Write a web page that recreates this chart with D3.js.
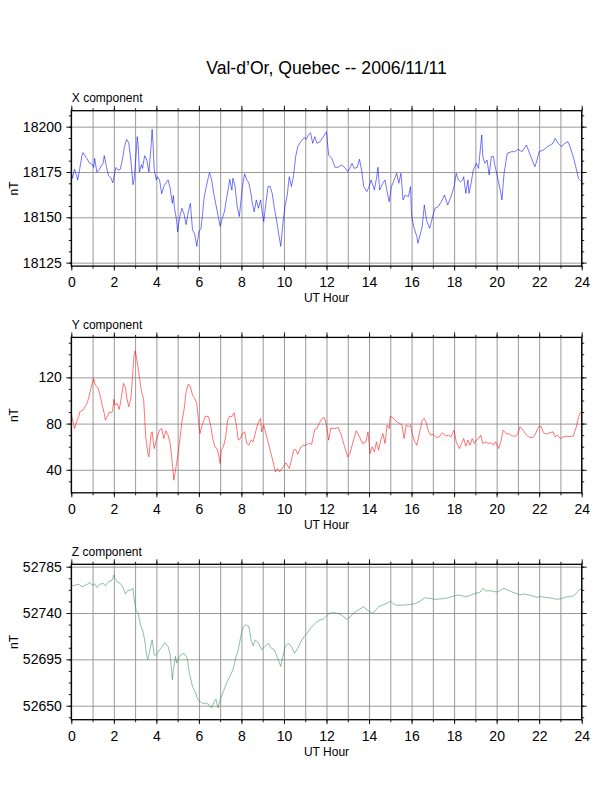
<!DOCTYPE html>
<html><head><meta charset="utf-8">
<script src="https://cdn.jsdelivr.net/npm/d3@7"></script>
<style>
body{margin:0;background:#fff}
svg{display:block}
text{font-family:"Liberation Sans",Arial,Helvetica,sans-serif;fill:#000}
</style>
</head><body>
<svg id="chart" width="612" height="792"></svg>
<script>
const chartTitle = "Val-d’Or, Quebec -- 2006/11/11";
const panelNames = ["X component", "Y component", "Z component"];
const xAxisLabel = "UT Hour";
const yAxisLabel = "nT";
const hourDomain = [0, 24];
const hourTicks = [0, 2, 4, 6, 8, 10, 12, 14, 16, 18, 20, 22, 24];
const hourMinorTicks = d3.range(0, 25, 1);

// X component
const xDomain = [18123.1, 18208.8];
const xTicks = [18125, 18150, 18175, 18200];
const xMinorStep = 6.25;
const xHours = [0.00,0.05,0.15,0.25,0.30,0.40,0.50,0.55,0.70,0.85,1.00,1.05,1.10,1.20,1.30,1.40,1.50,1.55,1.65,1.75,1.85,1.95,2.05,2.10,2.20,2.30,2.40,2.50,2.60,2.70,2.80,2.90,2.95,3.05,3.10,3.15,3.20,3.30,3.35,3.45,3.55,3.65,3.75,3.80,3.85,3.90,4.00,4.05,4.15,4.25,4.35,4.45,4.55,4.65,4.75,4.80,4.85,4.95,5.00,5.10,5.20,5.30,5.40,5.50,5.60,5.70,5.80,5.90,6.00,6.10,6.15,6.25,6.35,6.45,6.50,6.60,6.70,6.80,6.90,7.00,7.10,7.20,7.30,7.40,7.45,7.55,7.60,7.70,7.80,7.90,8.00,8.05,8.15,8.25,8.35,8.45,8.50,8.60,8.70,8.80,8.90,9.00,9.05,9.15,9.25,9.35,9.45,9.55,9.65,9.75,9.85,9.95,10.05,10.15,10.25,10.35,10.45,10.55,10.65,10.75,10.85,10.95,11.05,11.15,11.25,11.35,11.45,11.55,11.70,11.85,11.95,12.00,12.10,12.25,12.40,12.55,12.70,12.85,13.00,13.10,13.20,13.30,13.45,13.55,13.65,13.75,13.90,14.00,14.10,14.25,14.35,14.42,14.50,14.65,14.75,14.85,14.95,15.05,15.15,15.30,15.40,15.50,15.60,15.70,15.85,15.95,16.00,16.10,16.25,16.30,16.40,16.50,16.60,16.70,16.85,16.95,17.10,17.25,17.40,17.55,17.70,17.85,18.00,18.10,18.20,18.30,18.40,18.45,18.55,18.65,18.70,18.80,18.90,19.05,19.15,19.20,19.30,19.35,19.45,19.55,19.65,19.75,19.85,19.90,20.10,20.20,20.25,20.35,20.50,20.70,20.85,21.00,21.20,21.40,21.55,21.70,21.80,21.90,22.00,22.20,22.40,22.65,22.75,22.90,23.05,23.20,23.35,23.45,23.60,23.70,23.85,24.00];
const xValues = [18176,18171.5,18176.5,18173,18170.5,18177,18184,18185.7,18183,18180,18179,18177.5,18182.5,18175,18176,18178,18180,18184,18178,18173,18172,18169,18175,18177.5,18176,18176.5,18181.6,18189,18193,18191,18181.6,18168,18170.6,18185.3,18194.5,18189,18175,18179,18177,18184,18181.6,18175,18189,18198.5,18189,18176,18170.6,18172.4,18170.6,18163,18167,18169,18170.6,18166,18157.7,18162,18155,18148.5,18142,18150.4,18155,18152,18146,18153,18157.7,18143,18141,18134,18142,18144,18149.5,18161.4,18167,18172.4,18174.6,18170.6,18163,18157,18151,18145,18149.5,18153,18160.5,18167,18171,18165,18171.5,18167,18156,18150.4,18161.4,18167,18174,18170.6,18169,18163,18158.6,18153,18159.6,18155,18159.6,18151,18147.6,18157.7,18167,18167,18163,18155,18148.5,18141,18134,18146.7,18156,18162,18172.4,18167,18173,18183.5,18189,18191,18192.6,18194,18193,18195.4,18196.7,18190.8,18194.5,18190.8,18191.7,18194.5,18196.3,18197.2,18184.4,18182.5,18177.6,18177.6,18178.9,18177.6,18175.2,18177,18179.8,18177,18177.6,18182,18176.1,18166.9,18164.2,18166.9,18170.6,18165.1,18171.5,18177.6,18165.1,18168.8,18170.6,18164.2,18158.6,18166.9,18169.7,18174.3,18168.8,18174.3,18159.6,18162.3,18161.4,18166.9,18151.3,18144.9,18139.3,18135.7,18140.3,18144.9,18156.8,18148.5,18143.9,18148.5,18155,18155.9,18158.6,18162.3,18156.8,18161.4,18166.9,18174.3,18170.6,18169.7,18170.6,18172.4,18163.2,18170.6,18163.2,18168.8,18176.1,18179.8,18177,18183.5,18195.4,18183.5,18179.8,18181.6,18173.3,18183.5,18183.5,18179.8,18168.8,18163.2,18159.6,18174.3,18185.3,18186.2,18186.2,18187.5,18186.2,18189.9,18185.3,18180.7,18177.9,18181.6,18186.2,18187.1,18189,18190.8,18193.6,18190.8,18189,18190.8,18191.7,18189,18183.5,18178.9,18171.5,18169.7];

// Y component
const yDomain = [20.1, 154.6];
const yTicks = [40, 80, 120];
const yMinorStep = 10;
const yHours = [0.00,0.10,0.15,0.25,0.35,0.40,0.55,0.65,0.75,0.85,0.95,1.00,1.05,1.12,1.25,1.35,1.45,1.55,1.60,1.70,1.80,1.90,1.95,2.00,2.05,2.15,2.25,2.35,2.45,2.55,2.60,2.70,2.80,2.85,2.95,3.00,3.10,3.20,3.30,3.40,3.50,3.60,3.65,3.75,3.80,3.90,4.00,4.15,4.25,4.35,4.45,4.55,4.65,4.75,4.82,4.90,5.00,5.10,5.20,5.30,5.40,5.50,5.60,5.70,5.80,5.90,6.00,6.05,6.15,6.30,6.45,6.55,6.65,6.75,6.85,6.95,7.00,7.05,7.15,7.25,7.35,7.45,7.55,7.65,7.75,7.85,7.95,8.05,8.15,8.25,8.35,8.45,8.55,8.65,8.75,8.85,8.90,8.95,9.05,9.15,9.25,9.35,9.45,9.60,9.70,9.80,9.95,10.10,10.25,10.35,10.45,10.55,10.65,10.80,10.90,11.00,11.15,11.30,11.45,11.55,11.65,11.80,11.90,12.00,12.10,12.20,12.40,12.55,12.70,12.85,13.00,13.10,13.25,13.40,13.55,13.70,13.85,13.95,14.05,14.15,14.25,14.35,14.45,14.55,14.65,14.75,14.85,14.95,15.00,15.15,15.30,15.45,15.55,15.65,15.75,15.85,15.95,16.05,16.15,16.25,16.35,16.50,16.60,16.70,16.80,16.90,17.00,17.15,17.30,17.45,17.60,17.75,17.85,18.00,18.10,18.25,18.35,18.45,18.55,18.65,18.75,18.85,18.95,19.05,19.15,19.25,19.35,19.50,19.60,19.75,19.85,19.95,20.10,20.20,20.30,20.45,20.60,20.75,20.90,21.00,21.10,21.25,21.40,21.55,21.70,21.80,21.90,22.00,22.10,22.20,22.35,22.50,22.65,22.75,22.85,23.00,23.15,23.30,23.45,23.60,23.75,23.85,23.95];
const yValues = [88.2,80,75.8,81.6,86,90.2,91.7,94.6,98,104.7,112.5,115.4,119,113.4,111.3,104.7,96,88.8,83,86.5,90.2,89.4,91.7,101,96,97.5,92.3,101.8,114.8,111.3,103.2,94.6,101.8,113.4,139.4,143.1,133.6,120.6,107.6,101.8,68.6,54.1,51.2,71.4,72.9,58.4,65.7,74.3,75.8,67.1,73.8,70,62.8,45.4,31,39.7,51.2,65.7,81.6,91.7,107.6,114.2,111.9,104.7,101.8,97.5,78.7,71.4,78.7,86.5,85.9,78.7,67.1,59.9,58.4,51.2,45.4,57,59.9,67.1,83,86.5,85.9,89.4,80,65.7,67.1,71.4,72.9,62.8,61.3,65.7,64.2,71.4,78.7,83,84.5,72.9,78.7,71.4,64.2,57,49.8,38.2,41.1,38.2,42.5,46,41.1,48.3,57,57.6,53.5,59.9,61.3,61,63,62,75,75.8,80,84.5,85.3,78.7,65.7,75.8,75.8,76.6,70,59.9,51.2,54.1,64.2,73.8,68.6,62.8,64.2,72.9,54.1,59.9,55.6,64.2,57,65.7,71.4,62.8,78.7,75.8,86.5,84.5,81.6,80,78.7,67.1,78.7,77.2,78.7,70,64.2,61.3,70,82.9,84.5,80,72.9,70,70.9,68,68.6,72.1,69.2,70,68.6,74.3,64.2,58.4,62.8,67.1,60.5,65.7,61.3,67.1,62.8,65.7,67.1,70,62.8,64.2,62.8,63.3,61.3,64.2,58.4,64.2,74.3,71.4,70.9,69.2,69.2,71.4,77.2,74.3,70,68,68,70,74.3,77.7,77.2,72.1,70.9,72.1,72.9,68.6,70,67.1,68.6,69.2,68.6,69.2,77.2,85.9,90.2];

// Z component
const zDomain = [52636.4, 52787.3];
const zTicks = [52650, 52695, 52740, 52785];
const zMinorStep = 11.25;
const zHours = [0.00,0.20,0.35,0.50,0.60,0.75,0.85,1.00,1.10,1.20,1.35,1.50,1.60,1.75,1.90,2.00,2.05,2.15,2.30,2.45,2.55,2.65,2.80,2.90,2.95,3.05,3.15,3.25,3.35,3.45,3.55,3.60,3.70,3.80,3.90,3.95,4.05,4.15,4.30,4.40,4.55,4.65,4.70,4.75,4.80,4.90,4.95,5.05,5.15,5.30,5.45,5.55,5.70,5.85,5.95,6.05,6.20,6.35,6.50,6.60,6.70,6.80,6.90,7.00,7.15,7.30,7.45,7.60,7.75,7.85,8.00,8.10,8.20,8.35,8.45,8.55,8.65,8.80,8.95,9.10,9.25,9.40,9.55,9.70,9.85,9.95,10.05,10.20,10.35,10.50,10.65,10.80,10.95,11.10,11.25,11.40,11.50,11.70,11.85,12.00,12.15,12.35,12.60,12.80,12.95,13.10,13.30,13.50,13.75,13.90,14.05,14.15,14.30,14.45,14.65,14.85,15.00,15.15,15.30,15.50,15.75,16.00,16.20,16.45,16.60,16.85,17.10,17.35,17.60,17.80,18.00,18.20,18.40,18.60,18.80,19.00,19.20,19.35,19.50,19.70,19.90,20.05,20.20,20.35,20.50,20.70,20.90,21.10,21.30,21.50,21.70,21.90,22.10,22.30,22.50,22.70,22.85,23.00,23.20,23.40,23.60,23.75,23.90,24.00];
const zValues = [52766.3,52767.2,52767.9,52765.6,52766.3,52767.9,52769.5,52767.2,52768.2,52765,52767.9,52768.8,52766.3,52770.5,52771.4,52776.9,52773.7,52770.5,52768.8,52764,52758.5,52761.7,52762.4,52764,52754.3,52742.4,52739.8,52728.5,52723.6,52714,52697.8,52694.6,52704.3,52714,52699.4,52698.5,52701,52704.3,52708.1,52711.4,52707.5,52699.4,52688.1,52675.2,52684.9,52697.8,52691.3,52696.2,52699.4,52701,52696.2,52681.6,52668.7,52662.3,52655.8,52654.2,52651.9,52652.6,52650.3,52647.7,52653.2,52656.4,52647.7,52655.8,52663.9,52671.9,52678.4,52684.9,52697.8,52704.3,52720.4,52726.9,52728.5,52726.9,52714,52708.1,52714,52710.7,52704.3,52707.5,52710.7,52705.9,52704.3,52696.2,52688.1,52697.8,52706.8,52710.7,52707.5,52701,52705.9,52712.3,52717.2,52720.4,52725.2,52728.5,52730.7,52733.3,52733.9,52737.2,52739.8,52740.4,52739.2,52736.6,52734,52735.9,52740.4,52743,52746.2,52743,52741.4,52739.8,52742.4,52746.2,52747.9,52749.4,52751.7,52748.8,52747.5,52747.5,52747.9,52748.5,52749.4,52752,52754.6,52754.3,52753.3,52753.6,52754.3,52755.2,52756.6,52757.5,52756.6,52755.9,52757.5,52759.2,52759.8,52764,52761.4,52761.7,52760.7,52760.4,52762.4,52764,52762.4,52760.7,52759.2,52757.5,52758.5,52757.5,52756.6,52755.2,52755.9,52755.2,52754.6,52753.9,52753.3,52753.9,52755.2,52755.9,52756.6,52759.2,52763,52763];

const lineColors = ["#0000ff", "#ff0000", "#2e8b57"];

const panels = [
  {name: panelNames[0], hours: xHours, values: xValues, domain: xDomain, ticks: xTicks, minorStep: xMinorStep, color: lineColors[0]},
  {name: panelNames[1], hours: yHours, values: yValues, domain: yDomain, ticks: yTicks, minorStep: yMinorStep, color: lineColors[1]},
  {name: panelNames[2], hours: zHours, values: zValues, domain: zDomain, ticks: zTicks, minorStep: zMinorStep, color: lineColors[2]}
];

const svg = d3.select("#chart");
const left = 71.3, right = 581.7, panelH = 155.4;
const tops = [110.7, 337.4, 564.3];
const fontFam = '"Liberation Sans", Arial, Helvetica, sans-serif';

svg.append("text")
  .attr("x", (left + right) / 2).attr("y", 73.5)
  .attr("text-anchor", "middle")
  .style("font-size", "17.6px")
  .text(chartTitle);

const xs = d3.scaleLinear().domain(hourDomain).range([left, right]);

function styleAxis(g) {
  g.select(".domain").remove();
  g.selectAll("text").style("font-family", fontFam).style("font-size", "14px").attr("fill", "#000");
  g.selectAll("line").attr("stroke", "#000").attr("stroke-width", 0.9);
}

panels.forEach((p, i) => {
  const top = tops[i], bottom = top + panelH;
  const ys = d3.scaleLinear().domain(p.domain).range([bottom, top]);
  const g = svg.append("g");

  const minorVals = [];
  const base = p.ticks[0];
  for (let v = base; v >= p.domain[0]; v -= p.minorStep) minorVals.push(v);
  for (let v = base + p.minorStep; v <= p.domain[1]; v += p.minorStep) minorVals.push(v);

  // grid
  const gridV = g.append("g").attr("transform", `translate(0,${top})`)
    .call(d3.axisBottom(xs).tickValues(hourMinorTicks).tickSize(panelH).tickFormat(""));
  gridV.select(".domain").remove();
  gridV.selectAll("line").attr("stroke", "#8f8f8f").attr("stroke-width", 0.9);
  const gridH = g.append("g").attr("transform", `translate(${left},0)`)
    .call(d3.axisRight(ys).tickValues(p.ticks).tickSize(right - left).tickFormat(""));
  gridH.select(".domain").remove();
  gridH.selectAll("line").attr("stroke", "#8f8f8f").attr("stroke-width", 0.9);

  // data line
  const pts = p.hours.map((h, k) => [h, p.values[k]]);
  g.append("path")
    .datum(pts)
    .attr("fill", "none")
    .attr("stroke", p.color)
    .attr("stroke-width", 0.55)
    .attr("stroke-linejoin", "round")
    .attr("d", d3.line().x(d => xs(d[0])).y(d => ys(d[1])));

  // left axis
  g.append("g").attr("transform", `translate(${left},0)`)
    .call(d3.axisLeft(ys).tickValues(p.ticks).tickSize(5).tickPadding(4.5).tickFormat(d3.format("d"))).call(styleAxis);
  g.append("g").attr("transform", `translate(${left},0)`)
    .call(d3.axisLeft(ys).tickValues(minorVals).tickSize(2.5).tickFormat("")).call(styleAxis);
  // right axis
  g.append("g").attr("transform", `translate(${right},0)`)
    .call(d3.axisRight(ys).tickValues(p.ticks).tickSize(5).tickFormat("")).call(styleAxis);
  g.append("g").attr("transform", `translate(${right},0)`)
    .call(d3.axisRight(ys).tickValues(minorVals).tickSize(2.5).tickFormat("")).call(styleAxis);
  // bottom axis
  g.append("g").attr("transform", `translate(0,${bottom})`)
    .call(d3.axisBottom(xs).tickValues(hourTicks).tickSize(4.5).tickPadding(6.5).tickFormat(d3.format("d"))).call(styleAxis);
  g.append("g").attr("transform", `translate(0,${bottom})`)
    .call(d3.axisBottom(xs).tickValues(hourMinorTicks).tickSize(2.5).tickFormat("")).call(styleAxis);
  // top axis
  g.append("g").attr("transform", `translate(0,${top})`)
    .call(d3.axisTop(xs).tickValues(hourTicks).tickSize(5).tickFormat("")).call(styleAxis);
  g.append("g").attr("transform", `translate(0,${top})`)
    .call(d3.axisTop(xs).tickValues(hourMinorTicks).tickSize(2.5).tickFormat("")).call(styleAxis);

  // frame
  g.append("rect")
    .attr("x", left).attr("y", top)
    .attr("width", right - left).attr("height", panelH)
    .attr("fill", "none").attr("stroke", "#000").attr("stroke-width", 1.3);

  // labels
  g.append("text").attr("x", left + 0.5).attr("y", top - 8.3)
    .style("font-size", "12px").text(p.name);
  g.append("text").attr("x", (left + right) / 2).attr("y", bottom + 36)
    .attr("text-anchor", "middle").style("font-size", "12px").text(xAxisLabel);
  g.append("text")
    .attr("transform", `translate(${17.5},${top + panelH / 2}) rotate(-90)`)
    .attr("text-anchor", "middle").style("font-size", "12px").text(yAxisLabel);
});
</script>
</body></html>
